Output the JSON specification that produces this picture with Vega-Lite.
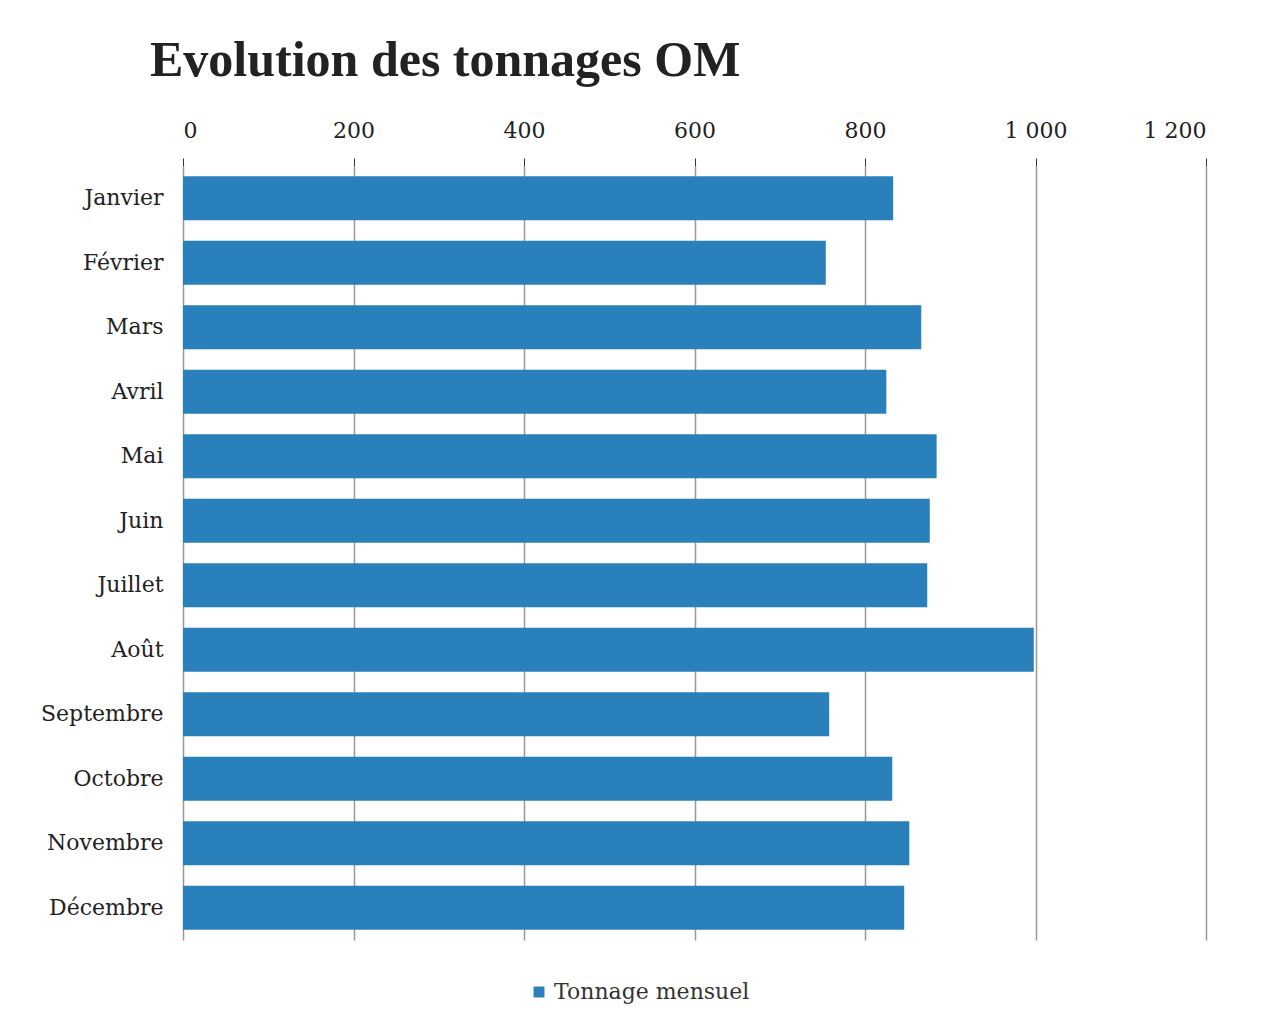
{
  "$schema": "https://vega.github.io/schema/vega-lite/v6.json",
  "autosize": {"type": "none"},
  "width": 1023,
  "height": 774,
  "padding": {"left": 183, "top": 166, "right": 57, "bottom": 95},
  "background": "white",
  "title": {
    "text": "Evolution des tonnages OM",
    "anchor": "start",
    "frame": "group",
    "font": "Liberation Serif",
    "fontWeight": "bold",
    "fontSize": 50,
    "color": "#222222",
    "dx": -33,
    "offset": 33
  },
  "data": {
    "values": [
      {"mois": "Janvier", "tonnage": 833},
      {"mois": "Février", "tonnage": 754},
      {"mois": "Mars", "tonnage": 866},
      {"mois": "Avril", "tonnage": 825},
      {"mois": "Mai", "tonnage": 884},
      {"mois": "Juin", "tonnage": 876},
      {"mois": "Juillet", "tonnage": 873},
      {"mois": "Août", "tonnage": 998},
      {"mois": "Septembre", "tonnage": 758},
      {"mois": "Octobre", "tonnage": 832},
      {"mois": "Novembre", "tonnage": 852},
      {"mois": "Décembre", "tonnage": 846}
    ]
  },
  "mark": {"type": "bar", "color": "#2a80bb"},
  "encoding": {
    "y": {
      "field": "mois",
      "type": "nominal",
      "sort": null,
      "scale": {"paddingInner": 0.32, "paddingOuter": 0.16},
      "axis": {
        "title": null,
        "domain": false,
        "ticks": false,
        "labelFont": "DejaVu Serif",
        "labelFontSize": 22,
        "labelColor": "#222222",
        "labelPadding": 20
      }
    },
    "x": {
      "field": "tonnage",
      "type": "quantitative",
      "scale": {"domain": [0, 1200], "nice": false},
      "axis": {
        "orient": "top",
        "title": null,
        "values": [0, 200, 400, 600, 800, 1000, 1200],
        "labelExpr": "replace(format(datum.value, ','), ',', ' ')",
        "domain": false,
        "tickColor": "#333333",
        "tickSize": 8,
        "labelFont": "DejaVu Serif",
        "labelFontSize": 22,
        "labelColor": "#222222",
        "labelPadding": 16,
        "grid": true,
        "gridColor": "#999999",
        "gridWidth": 1.5
      }
    },
    "color": {
      "datum": "Tonnage mensuel",
      "scale": {"range": ["#2a80bb"]},
      "legend": {
        "title": null,
        "orient": "none",
        "legendX": 345,
        "legendY": 815,
        "symbolType": "square",
        "symbolSize": 120,
        "labelLimit": 400,
        "labelFont": "DejaVu Serif",
        "labelFontSize": 22,
        "labelColor": "#333333"
      }
    }
  },
  "config": {"view": {"stroke": null}}
}
